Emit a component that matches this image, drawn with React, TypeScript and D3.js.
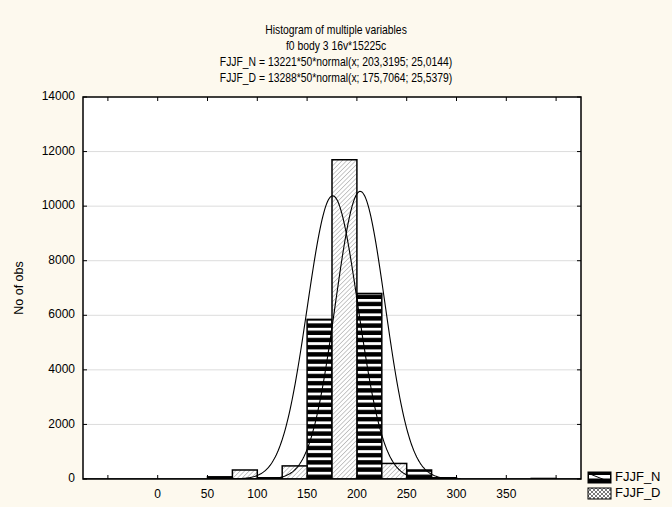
import React from "react";
import * as d3 from "d3";

const titleLines = [
  "Histogram of multiple variables",
  "f0 body 3 16v*15225c",
  "FJJF_N = 13221*50*normal(x; 203,3195; 25,0144)",
  "FJJF_D = 13288*50*normal(x; 175,7064; 25,5379)",
];
const binStarts = [50, 100, 150, 200, 250, 300, 350];
const valuesN = [80, 45, 5850, 6800, 330, 0, 0];
const valuesD = [330, 480, 11700, 570, 45, 0, 20];
const fitN = { n: 13221, w: 50, mean: 203.3195, sd: 25.0144 };
const fitD = { n: 13288, w: 50, mean: 175.7064, sd: 25.5379 };
const yTicks = [0, 2000, 4000, 6000, 8000, 10000, 12000, 14000];
const xTicks = [-50, 0, 50, 100, 150, 200, 250, 300, 350, 400];
const xLabels = [0, 50, 100, 150, 200, 250, 300, 350];
const seriesNames = ["FJJF_N", "FJJF_D"];

const W = 672, H = 507;
const L = 83, R = 581, T = 97, B = 479;
const FONT = "'Liberation Sans', Arial, sans-serif";

export default function App() {
  const x = d3.scaleLinear().domain([-75, 425]).range([L, R]);
  const y = d3.scaleLinear().domain([0, 14000]).range([B, T]);

  const curve = (f: typeof fitN) => {
    const pts = d3.range(-75, 425.5, 1).map((v) => [
      v,
      (f.n * f.w * Math.exp(-((v - f.mean) ** 2) / (2 * f.sd * f.sd))) /
        (f.sd * Math.sqrt(2 * Math.PI)),
    ]);
    return d3
      .line<number[]>()
      .x((d) => x(d[0]))
      .y((d) => y(d[1]))(pts) as string;
  };

  return (
    <svg
      width={W}
      height={H}
      style={{ position: "absolute", left: 0, top: 0, display: "block" }}
      fontFamily={FONT}
    >
      <defs>
        <pattern id="patN" width="6" height="7.2" patternUnits="userSpaceOnUse" y={B}>
          <rect width="6" height="7.2" fill="#000" />
          <rect y="0" width="6" height="2.8" fill="#fff" />
        </pattern>
        <pattern
          id="patD"
          width="3.2"
          height="3.2"
          patternUnits="userSpaceOnUse"
          patternTransform="rotate(45)"
        >
          <rect width="3.2" height="3.2" fill="#fff" />
          <line x1="0" y1="0" x2="0" y2="3.2" stroke="#777" strokeWidth="0.8" />
        </pattern>
        <pattern id="patLegD" width="4" height="4" patternUnits="userSpaceOnUse">
          <rect width="4" height="4" fill="#fff" />
          <path d="M0,4 L4,0 M0,0 L4,4" stroke="#555" strokeWidth="0.8" />
        </pattern>
        <clipPath id="plotClip">
          <rect x={L} y={T} width={R - L} height={B - T} />
        </clipPath>
      </defs>
      <rect width={W} height={H} fill="#fdf9ee" />
      <rect x={L} y={T} width={R - L} height={B - T} fill="#fff" />

      {titleLines.map((t, i) => (
        <g key={i} transform={`translate(336,${31 + i * 16}) scale(0.83,1)`}>
          <text
            x={0}
            y={0}
            textAnchor="middle"
            dominantBaseline="middle"
            fontSize={12.5}
            fill="#000"
          >
            {t}
          </text>
        </g>
      ))}

      {yTicks.slice(1, -1).map((v) => (
        <line key={v} x1={L} x2={R} y1={y(v)} y2={y(v)} stroke="#dcdcdc" strokeWidth={1} />
      ))}

      <g clipPath="url(#plotClip)">
        {binStarts.map((b, i) =>
          valuesN[i] > 0 ? (
            <rect
              key={"n" + b}
              x={x(b)}
              y={y(valuesN[i])}
              width={x(b + 25) - x(b)}
              height={B - y(valuesN[i])}
              fill="url(#patN)"
              stroke="#000"
              strokeWidth={1.5}
            />
          ) : null
        )}
        {binStarts.map((b, i) =>
          valuesD[i] > 0 ? (
            <rect
              key={"d" + b}
              x={x(b + 25)}
              y={y(valuesD[i])}
              width={x(b + 50) - x(b + 25)}
              height={B - y(valuesD[i])}
              fill="url(#patD)"
              stroke="#000"
              strokeWidth={1.5}
            />
          ) : null
        )}
        <path d={curve(fitN)} fill="none" stroke="#000" strokeWidth={1.1} />
        <path d={curve(fitD)} fill="none" stroke="#000" strokeWidth={1.1} />
      </g>

      <rect x={L} y={T} width={R - L} height={B - T} fill="none" stroke="#000" strokeWidth={1.5} />

      {xTicks.map((v) => (
        <g key={"xt" + v}>
          <line x1={x(v)} x2={x(v)} y1={B} y2={B - 4} stroke="#000" />
          <line x1={x(v)} x2={x(v)} y1={T} y2={T + 4} stroke="#000" />
        </g>
      ))}
      {yTicks.map((v) => (
        <g key={"yt" + v}>
          <line x1={L} x2={L + 4} y1={y(v)} y2={y(v)} stroke="#000" />
          <line x1={R} x2={R - 4} y1={y(v)} y2={y(v)} stroke="#000" />
        </g>
      ))}

      {xLabels.map((v) => (
        <text
          key={"xl" + v}
          x={x(v)}
          y={495}
          textAnchor="middle"
          dominantBaseline="middle"
          fontSize={12}
        >
          {v}
        </text>
      ))}
      {yTicks.map((v) => (
        <text
          key={"yl" + v}
          x={75}
          y={y(v)}
          textAnchor="end"
          dominantBaseline="middle"
          fontSize={12}
        >
          {v}
        </text>
      ))}
      <text
        transform={`translate(20,${288}) rotate(-90)`}
        textAnchor="middle"
        dominantBaseline="middle"
        fontSize={12.5}
      >
        No of obs
      </text>

      <rect x={588} y={472} width={23} height={11} fill="#000" stroke="#000" />
      <rect x={589} y={475} width={21} height={3.5} fill="#fff" />
      <line x1={590} y1={474} x2={610} y2={482} stroke="#000" strokeWidth={1} />
      <text x={615} y={478} dominantBaseline="middle" fontSize={13}>
        {seriesNames[0]}
      </text>
      <rect x={588} y={488} width={23} height={11} fill="url(#patLegD)" stroke="#000" />
      <text x={615} y={494} dominantBaseline="middle" fontSize={13}>
        {seriesNames[1]}
      </text>
    </svg>
  );
}
